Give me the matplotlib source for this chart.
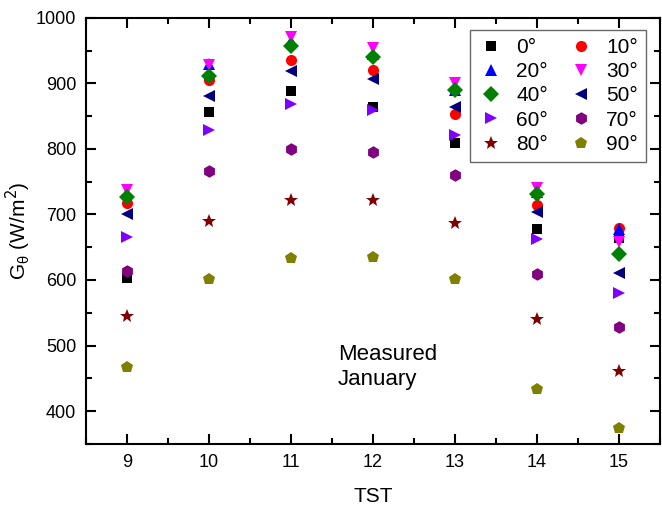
import numpy as np
import matplotlib
matplotlib.use('Agg')
import matplotlib.pyplot as plt

plt.rcParams['font.family'] = ['Liberation Sans', 'DejaVu Sans']

# Solar time (h)
tst = [9, 10, 11, 12, 13, 14, 15]

# Irradiance on tilted surface, W/m2, one list per tilt angle
g_0 = [603, 856, 888, 864, 809, 678, 664]
g_10 = [718, 905, 936, 920, 853, 715, 680]
g_20 = [733, 930, 965, 945, 890, 735, 678]
g_30 = [738, 928, 971, 954, 900, 741, 658]
g_40 = [727, 911, 957, 940, 890, 731, 640]
g_50 = [700, 881, 919, 907, 864, 703, 611]
g_60 = [665, 829, 869, 860, 821, 663, 580]
g_70 = [614, 766, 800, 796, 760, 609, 528]
g_80 = [545, 690, 722, 722, 687, 540, 461]
g_90 = [468, 601, 634, 635, 602, 434, 374]

labels = ['0°', '10°', '20°', '30°', '40°', '50°', '60°', '70°', '80°', '90°']
series = [g_0, g_10, g_20, g_30, g_40, g_50, g_60, g_70, g_80, g_90]
markers = ['s', 'o', '^', 'v', 'D', '<', '>', 'h', '*', 'p']
colors = ['black', 'red', 'blue', 'magenta', 'green', 'navy',
          '#8000ff', 'purple', 'maroon', 'olive']
sizes = [7, 8, 9, 9, 8, 9, 9, 9, 10, 9]

fig = plt.figure(figsize=(6.62, 5.09), dpi=100)
ax = fig.add_axes([0.130, 0.128, 0.867, 0.837])

handles = []
for vals, m, c, s, lab in zip(series, markers, colors, sizes, labels):
    h, = ax.plot(tst, vals, linestyle='none', marker=m, color=c,
                 markersize=s, markeredgewidth=0, label=lab)
    handles.append(h)

ax.set_xlim(8.5, 15.5)
ax.set_ylim(350, 1000)
ax.set_xticks(tst)
ax.set_xticks(np.arange(8.5, 15.6, 0.5), minor=True)
ax.set_yticks(np.arange(400, 1001, 100))
ax.set_yticks(np.arange(350, 1001, 50), minor=True)
ax.tick_params(which='both', direction='in', top=True, right=True,
               labelsize=13, width=1.5)
ax.tick_params(which='major', length=7, pad=7)
ax.tick_params(which='minor', length=4)
for sp in ax.spines.values():
    sp.set_linewidth(1.5)

ax.set_xlabel('TST', fontsize=15, labelpad=12)
ax.set_ylabel(r'G$_\mathregular{θ}$ (W/m$^2$)', fontsize=15, labelpad=2)

ax.text(11.57, 503, 'Measured\nJanuary', fontsize=16, ha='left', va='top',
        linespacing=1.25)

# row-wise legend order: 0,10 / 20,30 / ...
order = [0, 2, 4, 6, 8, 1, 3, 5, 7, 9]
leg = ax.legend([handles[i] for i in order], [labels[i] for i in order],
                ncol=2, loc='upper right', bbox_to_anchor=(0.976, 0.972),
                borderaxespad=0, fontsize=15, frameon=True, fancybox=False,
                handletextpad=0.6, columnspacing=1.0, labelspacing=0.25,
                borderpad=0.4, handlelength=1.2)
leg.get_frame().set_edgecolor('#444444')
leg.get_frame().set_linewidth(1.0)

fig.savefig('out.png', dpi=100)
